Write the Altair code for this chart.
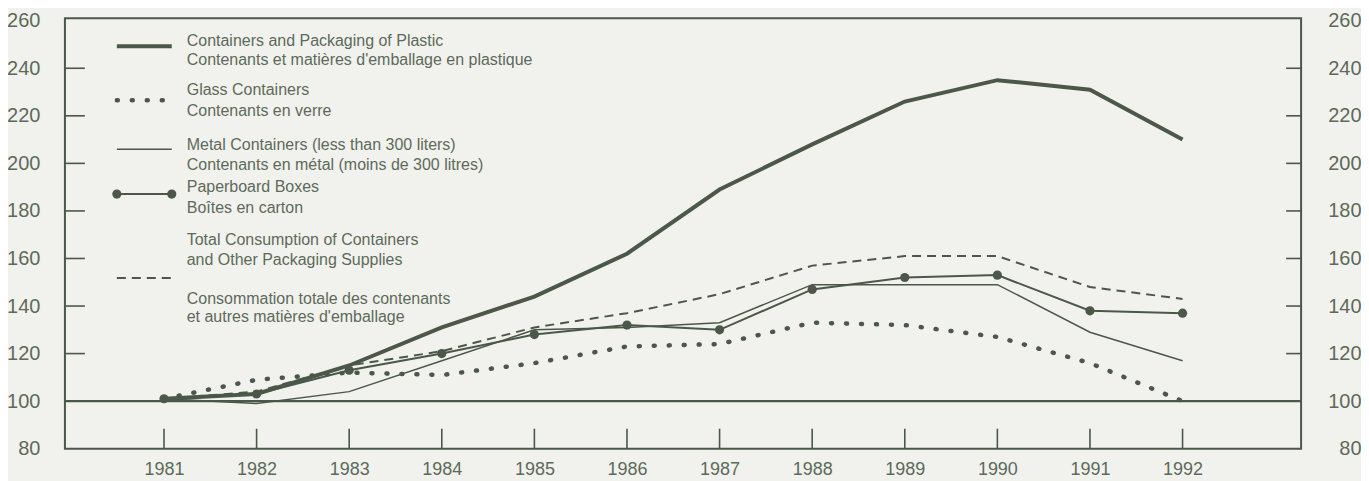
import altair as alt
import pandas as pd

years = [1981, 1982, 1983, 1984, 1985, 1986, 1987, 1988, 1989, 1990, 1991, 1992]
plastic = [101, 103, 115, 131, 144, 162, 189, 208, 226, 235, 231, 210]
glass = [101, 109, 112, 111, 116, 123, 124, 133, 132, 127, 116, 100]
metal = [101, 99, 104, 117, 130, 131, 133, 149, 149, 149, 129, 117]
paper = [101, 103, 113, 120, 128, 132, 130, 147, 152, 153, 138, 137]
total = [101, 104, 115, 121, 131, 137, 145, 157, 161, 161, 148, 143]
y_ticks = [80, 100, 120, 140, 160, 180, 200, 220, 240, 260]
inner_ticks = [120, 140, 160, 180, 200, 220, 240]
base_value = 100

legend_plastic = ["Containers and Packaging of Plastic", "Contenants et matières d'emballage en plastique"]
legend_glass = ["Glass Containers", "Contenants en verre"]
legend_metal = ["Metal Containers (less than 300 liters)", "Contenants en métal (moins de 300 litres)"]
legend_paper = ["Paperboard Boxes", "Boîtes en carton"]
legend_total = ["Total Consumption of Containers", "and Other Packaging Supplies",
                "Consommation totale des contenants", "et autres matières d'emballage"]

W, H = 1238, 431
INK = "#4b5849"
TXT = "#5d6a5a"
BG = "#f1f2ee"
FONT = "Liberation Sans"

xs = alt.Scale(domain=[1979.93, 1993.28], nice=False)
ys = alt.Scale(domain=[80, 261], nice=False, zero=False)

XAX = alt.Axis(values=years, format="d", ticks=False, domain=False, grid=False,
               labelPadding=12, labelFontSize=18, labelColor=TXT, labelFont=FONT, title=None)


def series_df(vals):
    return pd.DataFrame({"year": years, "value": vals})


X = alt.X("year:Q", scale=xs, axis=XAX)
Y = alt.Y("value:Q", scale=ys, axis=None)

layers = []

left_axis = alt.Chart(pd.DataFrame({"value": y_ticks})).mark_point(opacity=0).encode(
    y=alt.Y("value:Q", scale=ys, axis=alt.Axis(values=y_ticks, ticks=False, domain=False, grid=False,
                                                labelPadding=25, labelFontSize=20, labelColor=TXT,
                                                labelFont=FONT, title=None))
)
right_axis = alt.Chart(pd.DataFrame({"value": y_ticks})).mark_point(opacity=0).encode(
    y=alt.Y("value:Q", scale=ys, axis=alt.Axis(orient="right", values=y_ticks, ticks=False, domain=False,
                                                grid=False, labelPadding=60, labelAlign="right",
                                                labelFontSize=20, labelColor=TXT, labelFont=FONT, title=None))
)
bottom_ticks = alt.Chart(pd.DataFrame({"year": years})).mark_rule(color=INK, strokeWidth=1.6).encode(
    x=X, y=alt.value(H - 20), y2=alt.value(H)
)
layers += [left_axis, right_axis, bottom_ticks]

tick_df = pd.DataFrame({"value": inner_ticks})
layers.append(alt.Chart(tick_df).mark_rule(color=INK, strokeWidth=1.6).encode(
    y=Y, x=alt.value(0), x2=alt.value(20)))
layers.append(alt.Chart(tick_df).mark_rule(color=INK, strokeWidth=1.6).encode(
    y=Y, x=alt.value(W - 15), x2=alt.value(W)))

layers.append(alt.Chart(pd.DataFrame({"value": [base_value]})).mark_rule(color=INK, strokeWidth=2.2).encode(y=Y))

layers.append(alt.Chart(series_df(metal)).mark_line(color=INK, strokeWidth=1.5).encode(x=X, y=Y))
layers.append(alt.Chart(series_df(total)).mark_line(color=INK, strokeWidth=2, strokeDash=[9, 6]).encode(x=X, y=Y))
layers.append(alt.Chart(series_df(glass)).mark_line(color=INK, strokeWidth=4.5, strokeDash=[1, 14],
                                                   strokeCap="round").encode(x=X, y=Y))
layers.append(alt.Chart(series_df(paper)).mark_line(color=INK, strokeWidth=2).encode(x=X, y=Y))
layers.append(alt.Chart(series_df(paper)).mark_point(filled=True, color=INK, size=85, opacity=1).encode(x=X, y=Y))
layers.append(alt.Chart(series_df(plastic)).mark_line(color=INK, strokeWidth=4).encode(x=X, y=Y))

# legend
one = pd.DataFrame({"a": [0]})
SX0, SX1, TX = 52, 107, 122
FS = 16


def text_layer(t, y):
    return alt.Chart(one).mark_text(text=t, align="left", baseline="middle", fontSize=FS, font=FONT,
                                    color=TXT).encode(x=alt.value(TX), y=alt.value(y))


def sym_line(y, **kw):
    return alt.Chart(one).mark_rule(color=INK, **kw).encode(x=alt.value(SX0), x2=alt.value(SX1), y=alt.value(y))


for t, yy in zip(legend_plastic, [23, 42]):
    layers.append(text_layer(t, yy))
layers.append(sym_line(28, strokeWidth=4))
for t, yy in zip(legend_glass, [72, 93]):
    layers.append(text_layer(t, yy))
layers.append(sym_line(82, strokeWidth=4.5, strokeDash=[1, 14], strokeCap="round"))
for t, yy in zip(legend_metal, [127, 147]):
    layers.append(text_layer(t, yy))
layers.append(sym_line(131, strokeWidth=1.5))
for t, yy in zip(legend_paper, [169, 190]):
    layers.append(text_layer(t, yy))
layers.append(sym_line(176, strokeWidth=2))
for xx in [SX0, SX1]:
    layers.append(alt.Chart(one).mark_point(filled=True, color=INK, size=85, opacity=1).encode(
        x=alt.value(xx), y=alt.value(176)))
for t, yy in zip(legend_total, [222, 242, 281, 299]):
    layers.append(text_layer(t, yy))
layers.append(sym_line(260, strokeWidth=2, strokeDash=[9, 6]))

chart = alt.layer(*layers).resolve_scale(y="independent").properties(
    width=W, height=H,
    padding={"left": 57, "top": 10, "right": 60, "bottom": 32},
    autosize=alt.AutoSizeParams(type="none"),
    background=BG,
).configure_view(stroke=INK, strokeWidth=2)

chart.save("out.html", embed_options={"renderer": "svg", "actions": False})
